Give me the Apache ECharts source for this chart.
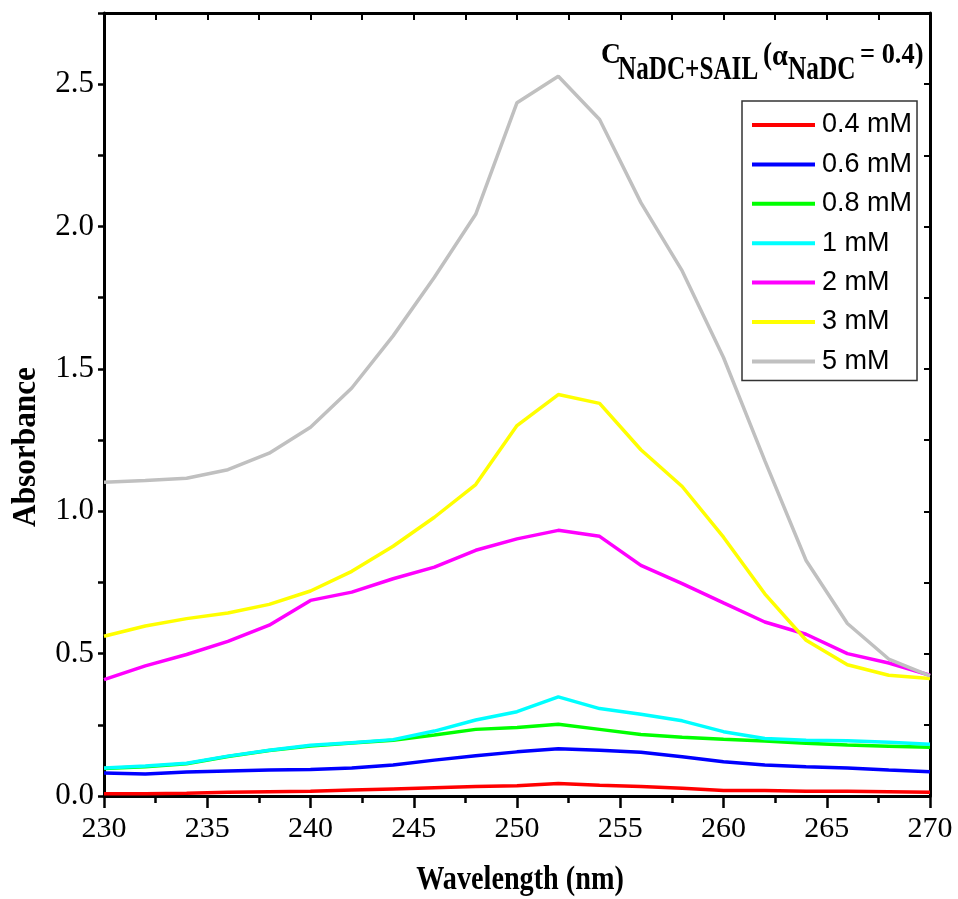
<!DOCTYPE html>
<html>
<head>
<meta charset="utf-8">
<script src="https://cdn.jsdelivr.net/npm/echarts@6/dist/echarts.min.js"></script>
<style>
  html, body { margin: 0; padding: 0; background: #fff; }
  #chart { width: 958px; height: 899px; }
</style>
</head>
<body>
<div id="chart"></div>
<script>
// Wavelength grid (nm)
const wavelengths = [230, 232, 234, 236, 238, 240, 242, 244, 246, 248, 250,
                     252, 254, 256, 258, 260, 262, 264, 266, 268, 270];

// Absorbance spectra for each total concentration
const conc04 = [0.008, 0.008, 0.010, 0.013, 0.015, 0.017, 0.021, 0.025, 0.029, 0.033, 0.036,
                0.044, 0.038, 0.033, 0.027, 0.019, 0.019, 0.017, 0.017, 0.015, 0.013];
const conc06 = [0.081, 0.077, 0.084, 0.088, 0.091, 0.093, 0.098, 0.109, 0.126, 0.141, 0.155,
                0.166, 0.161, 0.154, 0.138, 0.120, 0.109, 0.103, 0.098, 0.091, 0.085];
const conc08 = [0.097, 0.103, 0.113, 0.139, 0.160, 0.176, 0.186, 0.196, 0.214, 0.234, 0.241,
                0.252, 0.234, 0.216, 0.206, 0.199, 0.193, 0.185, 0.179, 0.175, 0.171];
const conc1  = [0.098, 0.105, 0.115, 0.140, 0.161, 0.178, 0.187, 0.198, 0.228, 0.267, 0.296,
                0.348, 0.307, 0.287, 0.264, 0.226, 0.202, 0.196, 0.194, 0.189, 0.182];
const conc2  = [0.409, 0.457, 0.497, 0.543, 0.600, 0.687, 0.716, 0.763, 0.804, 0.863, 0.903,
                0.933, 0.912, 0.810, 0.746, 0.678, 0.611, 0.568, 0.500, 0.467, 0.424];
const conc3  = [0.561, 0.597, 0.623, 0.643, 0.673, 0.720, 0.789, 0.877, 0.979, 1.094, 1.301,
                1.410, 1.379, 1.216, 1.087, 0.909, 0.710, 0.547, 0.461, 0.424, 0.413];
const conc5  = [1.102, 1.108, 1.116, 1.146, 1.204, 1.295, 1.433, 1.616, 1.822, 2.043, 2.435,
                2.528, 2.376, 2.084, 1.844, 1.540, 1.178, 0.827, 0.606, 0.481, 0.422];

const seriesNames = ['0.4 mM', '0.6 mM', '0.8 mM', '1 mM', '2 mM', '3 mM', '5 mM'];
const seriesValues = [conc04, conc06, conc08, conc1, conc2, conc3, conc5];
const seriesColors = ['#ff0000', '#0000ff', '#00ff00', '#00ffff', '#ff00ff', '#ffff00', '#c0c0c0'];

// Axis ranges and tick spacing
const xMin = 230, xMax = 270, xStep = 5;
const yMin = 0, yMax = 2.75, yLabelStep = 0.5, yTickStep = 0.25;

const serif = '"Liberation Serif", "Times New Roman", serif';
const sans = '"Liberation Sans", Arial, sans-serif';

const chart = echarts.init(document.getElementById('chart'), null, { renderer: 'canvas' });

const series = seriesNames.map((name, i) => ({
  name,
  type: 'line',
  xAxisIndex: 0,
  yAxisIndex: 0,
  symbol: 'none',
  smooth: false,
  lineStyle: { color: seriesColors[i], width: 3.5 },
  itemStyle: { color: seriesColors[i] },
  data: wavelengths.map((w, k) => [w, seriesValues[i][k]])
}));

function yLabel(v) {
  const r = v / yLabelStep;
  return (Math.abs(r - Math.round(r)) < 1e-6 && v <= 2.5 + 1e-9) ? v.toFixed(1) : '';
}

// bold serif text piece, left-anchored, vertically centred on y
function txt(text, x, y, size, sx) {
  return {
    type: 'text',
    x, y,
    scaleX: sx,
    style: {
      text,
      font: 'bold ' + size + 'px ' + serif,
      fill: '#000',
      align: 'left',
      verticalAlign: 'middle'
    }
  };
}

const option = {
  backgroundColor: '#ffffff',
  animation: false,
  grid: { left: 104, right: 28, top: 13, bottom: 103 },
  xAxis: [
    {
      type: 'value', position: 'bottom',
      min: xMin, max: xMax, interval: xStep,
      axisLine: { show: true, onZero: false, lineStyle: { color: '#000', width: 3 } },
      axisTick: { show: true, inside: false, length: 12, lineStyle: { color: '#000', width: 2.5 } },
      minorTick: { show: true, splitNumber: 2, length: 7, lineStyle: { color: '#000', width: 2.5 } },
      axisLabel: { margin: 18, color: '#000', fontFamily: serif, fontSize: 30 },
      splitLine: { show: false }
    },
    {
      type: 'value', position: 'top',
      min: xMin, max: xMax, interval: xStep / 2,
      axisLine: { show: true, onZero: false, lineStyle: { color: '#000', width: 3 } },
      axisTick: { show: true, inside: true, length: 7, lineStyle: { color: '#000', width: 2 } },
      axisLabel: { show: false },
      splitLine: { show: false }
    }
  ],
  yAxis: [
    {
      type: 'value', position: 'left',
      min: yMin, max: yMax, interval: yTickStep,
      axisLine: { show: true, onZero: false, lineStyle: { color: '#000', width: 3 } },
      axisTick: { show: true, inside: false, length: 6, lineStyle: { color: '#000', width: 2.5 } },
      axisLabel: { margin: 10, color: '#000', fontFamily: serif, fontSize: 31, formatter: yLabel },
      splitLine: { show: false }
    },
    {
      type: 'value', position: 'right',
      min: yMin, max: yMax, interval: yTickStep,
      axisLine: { show: true, onZero: false, lineStyle: { color: '#000', width: 3 } },
      axisTick: { show: true, inside: true, length: 6, lineStyle: { color: '#000', width: 2 } },
      axisLabel: { show: false },
      splitLine: { show: false }
    }
  ],
  legend: {
    orient: 'vertical',
    left: 742, top: 101,
    data: seriesNames,
    icon: 'rect',
    backgroundColor: '#fff',
    borderColor: '#333',
    borderWidth: 1.5,
    borderRadius: 0,
    padding: [9, 5, 4, 10],
    itemWidth: 63,
    itemHeight: 4,
    itemGap: 9.4,
    textStyle: { fontFamily: sans, fontSize: 27, lineHeight: 30, color: '#000', padding: [0, 0, 0, 2] }
  },
  graphic: [
    // header: C_{NaDC+SAIL} (α_{NaDC} = 0.4)
    txt('C', 601, 55, 30, 0.92),
    txt('NaDC+SAIL', 618, 70, 34, 0.74),
    txt('(', 763, 56, 32, 0.85),
    txt('α', 772, 57, 30, 0.95),
    txt('NaDC', 788, 70, 34, 0.744),
    txt('= 0.4)', 860, 55, 30, 0.88),
    // axis titles
    {
      type: 'text', x: 26, y: 447, rotation: Math.PI / 2,
      scaleX: 0.92,
      style: { text: 'Absorbance', font: 'bold 34px ' + serif, fill: '#000',
               align: 'center', verticalAlign: 'middle' }
    },
    {
      type: 'text', x: 520, y: 880,
      scaleX: 0.83,
      style: { text: 'Wavelength (nm)', font: 'bold 34px ' + serif, fill: '#000',
               align: 'center', verticalAlign: 'middle' }
    }
  ],
  series
};

chart.setOption(option);
</script>
</body>
</html>
